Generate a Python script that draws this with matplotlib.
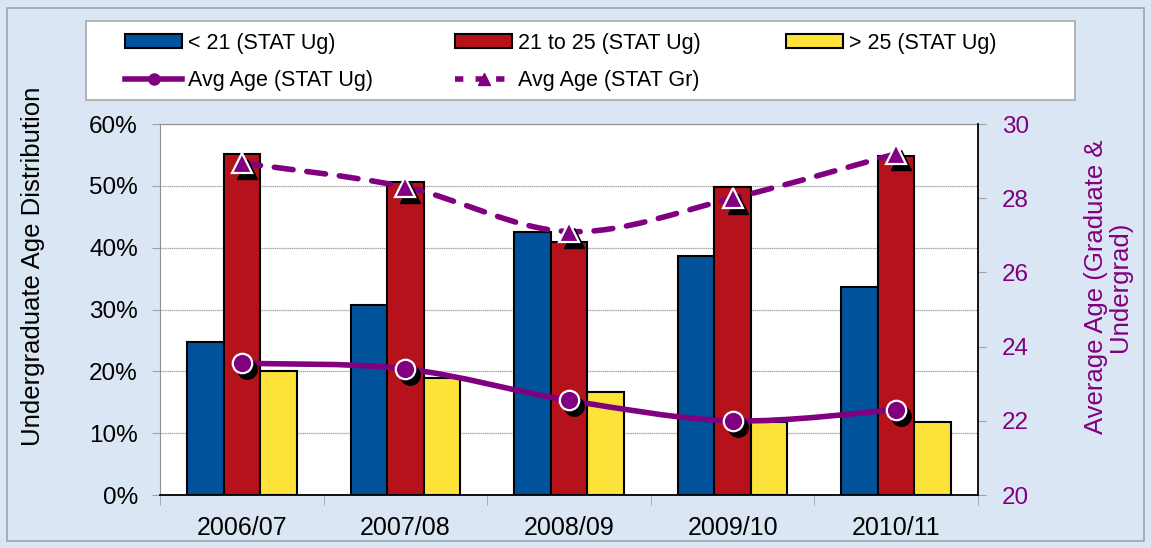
import matplotlib
matplotlib.use("Agg")
import matplotlib.pyplot as plt
import numpy as np
from matplotlib.path import Path
from matplotlib.patches import PathPatch, Rectangle, Patch
from matplotlib.lines import Line2D
from matplotlib.transforms import offset_copy
from matplotlib.ticker import PercentFormatter

plt.rcParams["font.family"] = ["Liberation Sans", "DejaVu Sans"]

years = ["2006/07", "2007/08", "2008/09", "2009/10", "2010/11"]
under_21 = [24.8, 30.7, 42.6, 38.6, 33.6]
age_21_25 = [55.2, 50.7, 40.9, 49.8, 54.8]
over_25 = [20.1, 18.9, 16.7, 11.8, 11.8]
avg_age_ug = [23.55, 23.4, 22.55, 22.0, 22.3]
avg_age_gr = [28.95, 28.3, 27.1, 28.0, 29.2]

BLUE = "#00529b"
RED = "#b5121b"
YELLOW = "#fde23a"
PURPLE = "#800080"
BG = "#dae6f3"
W, H = 1151, 548


def smooth_path(xs, ys):
    # Bezier segments through the points (like Excel's smoothed line)
    pts = np.column_stack([xs, ys]).astype(float)
    n = len(pts)
    verts = [pts[0]]
    codes = [Path.MOVETO]
    for i in range(n - 1):
        p0 = pts[i - 1] if i > 0 else pts[i]
        p1, p2 = pts[i], pts[i + 1]
        p3 = pts[i + 2] if i + 2 < n else pts[i + 1]
        c1 = p1 + (p2 - p0) / 6.0
        c2 = p2 - (p3 - p1) / 6.0
        verts += [c1, c2, p2]
        codes += [Path.CURVE4] * 3
    return Path(verts, codes)


def fx(px):
    return px / W


def fy(py):
    return 1 - py / H


fig = plt.figure(figsize=(W / 100, H / 100), dpi=100)
fig.patch.set_facecolor(BG)
fig.patches.append(Rectangle((fx(7), fy(541)), fx(1137), 533 / H, transform=fig.transFigure,
                             fill=False, edgecolor="#9aa6b4", linewidth=1.2))
# legend box
fig.patches.append(Rectangle((fx(86), fy(100)), fx(989), 79 / H, transform=fig.transFigure,
                             facecolor="white", edgecolor="#a8a8a8", linewidth=1.2))

ax = fig.add_axes([fx(160), fy(495), fx(818), 371 / H])
ax.set_facecolor("white")
x = np.arange(len(years))
w = 0.223
ax.bar(x - w, under_21, w, color=BLUE, edgecolor="black", linewidth=1.5, zorder=2)
ax.bar(x, age_21_25, w, color=RED, edgecolor="black", linewidth=1.5, zorder=2)
ax.bar(x + w, over_25, w, color=YELLOW, edgecolor="black", linewidth=1.5, zorder=2)

ax.set_xlim(-0.5, len(years) - 0.5)
ax.set_ylim(0, 60)
ax.set_yticks(np.arange(0, 61, 10))
ax.yaxis.set_major_formatter(PercentFormatter(decimals=0))
ax.yaxis.grid(True, color="#a0a0a0", linewidth=0.9, linestyle=(0, (1, 0.5)))
ax.set_axisbelow(True)
ax.set_xticks(x)
ax.set_xticklabels(years)
ax.set_xticks(np.arange(-0.5, len(years), 1.0), minor=True)
ax.tick_params(axis="x", which="major", length=0, labelsize=18, pad=15)
ax.tick_params(axis="x", which="minor", length=7, color="#a0a0a0", direction="out")
ax.tick_params(axis="y", length=6, color="#a0a0a0", labelsize=17.5, pad=10)
for s in ["top", "left"]:
    ax.spines[s].set_color("#909090")
ax.spines["bottom"].set_color("black")
ax.spines["bottom"].set_linewidth(1.3)
ax.spines["right"].set_visible(False)

ax2 = ax.twinx()
ax2.set_ylim(20, 30)
ax2.set_yticks(np.arange(20, 31, 2))
ax2.tick_params(axis="y", length=6, color="#a0a0a0", labelsize=17.5, labelcolor=PURPLE, pad=11)
ax2.spines["right"].set_color("black")
ax2.spines["right"].set_linewidth(1.3)
for s in ["top", "left", "bottom"]:
    ax2.spines[s].set_visible(False)

fig.text(fx(33), fy(266), "Undergraduate Age Distribution", rotation=90,
         ha="center", va="center", fontsize=18.5)
fig.text(fx(1108), fy(287), "Average Age (Graduate &\nUndergrad)", rotation=90,
         ha="center", va="center", fontsize=18.5, color=PURPLE, linespacing=0.95)

ax2.add_patch(PathPatch(smooth_path(x, avg_age_ug), fill=False, edgecolor=PURPLE,
                        linewidth=4, capstyle="round", zorder=3))
ax2.add_patch(PathPatch(smooth_path(x, avg_age_gr), fill=False, edgecolor=PURPLE,
                        linewidth=4, linestyle=(0, (3.4, 2.5)), capstyle="round", zorder=3))

shadow = offset_copy(ax2.transData, fig=fig, x=5, y=-6, units="dots")
ax2.plot(x, avg_age_ug, "o", ms=14, color="black", transform=shadow, zorder=4)
ax2.plot(x, avg_age_gr, "^", ms=15, color="black", transform=shadow, zorder=4)
ax2.plot(x, avg_age_ug, "o", ms=14, color=PURPLE, mec="white", mew=1.6, zorder=5)
ax2.plot(x, avg_age_gr, "^", ms=15, color=PURPLE, mec="white", mew=1.6, zorder=5)

leg_kw = dict(loc="center left", frameon=False, fontsize=15.5, handlelength=2.65,
              handleheight=0.6, handletextpad=0.28, borderpad=0, borderaxespad=0,
              labelspacing=0.78)
fig.legend([Patch(facecolor=BLUE, edgecolor="black", linewidth=1.5),
            Line2D([], [], color=PURPLE, lw=4, marker="o", ms=8, mec=PURPLE)],
           ["< 21 (STAT Ug)", "Avg Age (STAT Ug)"],
           bbox_to_anchor=(fx(125), fy(62)), **leg_kw)
fig.legend([Patch(facecolor=RED, edgecolor="black", linewidth=1.5),
            Line2D([], [], color=PURPLE, lw=4, ls=(0, (1.5, 2.2)), marker="^", ms=9,
                   mec=PURPLE)],
           ["21 to 25 (STAT Ug)", "Avg Age (STAT Gr)"],
           bbox_to_anchor=(fx(455), fy(62)), **leg_kw)
fig.legend([Patch(facecolor=YELLOW, edgecolor="black", linewidth=1.5)],
           ["> 25 (STAT Ug)"],
           bbox_to_anchor=(fx(786), fy(43)), **leg_kw)

fig.savefig("out.png", dpi=100, facecolor=BG)
